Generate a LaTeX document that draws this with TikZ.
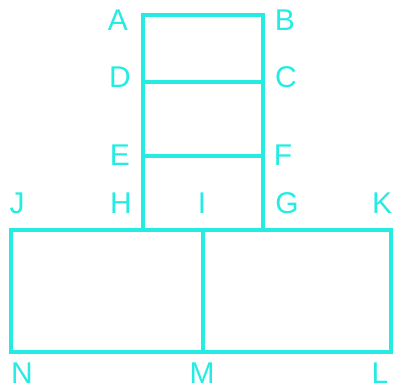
\documentclass[tikz,border=0pt]{standalone}
\usepackage{fontspec}
\setmainfont{Liberation Sans}
\usetikzlibrary{positioning}
\definecolor{figcyan}{RGB}{36,236,226}

\begin{document}
\begin{tikzpicture}[x=1pt, y=1pt]
    \tikzset{line cap=rect}
    % styles for the outline and the corner letters
    \tikzstyle{edge}   = [draw = figcyan, line width = 3.6pt]
    \tikzstyle{letter} = [text = figcyan, inner sep = 0pt, font = \fontsize{30}{30}\selectfont]

    \useasboundingbox (0,0) rectangle (393,389);

    % corners of the tall box
    \coordinate (A) at (143,374);
    \coordinate (B) at (263,374);
    \coordinate (D) at (143,307);
    \coordinate (C) at (263,307);
    \coordinate (E) at (143,233);
    \coordinate (F) at (263,233);
    \coordinate (H) at (143,159);
    \coordinate (G) at (263,159);
    % corners of the wide box
    \coordinate (J) at (11,159);
    \coordinate (I) at (203,159);
    \coordinate (K) at (391,159);
    \coordinate (N) at (11,37);
    \coordinate (M) at (203,37);
    \coordinate (L) at (391,37);

    \draw[edge] (H) -- (A) -- (B) -- (G);
    \draw[edge] (D) -- (C);
    \draw[edge] (E) -- (F);
    \draw[edge] (J) -- (K) -- (L) -- (N) -- cycle;
    \draw[edge] (I) -- (M);

    \node[letter] (lA) at (118,369) {A};
    \node[letter] (lB) at (285,369) {B};
    \node[letter] (lD) at (120,312) {D};
    \node[letter] (lC) at (286,312) {C};
    \node[letter] (lE) at (120,234) {E};
    \node[letter] (lF) at (283,234) {F};
    \node[letter] (lJ) at (17,186) {J};
    \node[letter] (lH) at (121,186) {H};
    \node[letter] (lI) at (202,186) {I};
    \node[letter] (lG) at (287,186) {G};
    \node[letter] (lK) at (382,186) {K};
    \node[letter] (lN) at (22,16) {N};
    \node[letter] (lM) at (202,16) {M};
    \node[letter] (lL) at (380,16) {L};
  \end{tikzpicture}
\end{document}
